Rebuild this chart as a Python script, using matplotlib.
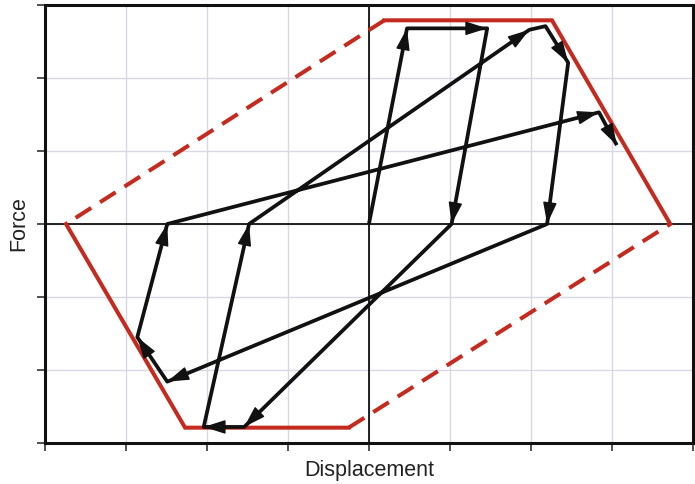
import numpy as np
import matplotlib
matplotlib.use("Agg")
import matplotlib.pyplot as plt
from matplotlib.patches import FancyArrowPatch

# envelope (red): solid parts and dashed unloading branches
env_solid_1_x = [-3.74, -2.27, -0.25]
env_solid_1_y = [0.0, -2.79, -2.79]
env_solid_2_x = [3.72, 2.26, 0.19]
env_solid_2_y = [0.0, 2.79, 2.79]
env_dash_1_x = [-0.25, 3.72]
env_dash_1_y = [-2.79, 0.0]
env_dash_2_x = [0.19, -3.74]
env_dash_2_y = [2.79, 0.0]

# load path (black), in order
path_x = [0.0, 0.47, 1.46, 1.02, -1.54, -2.04, -1.48, 1.98, 2.18, 2.46, 2.20, -2.49, -2.86, -2.49, 2.84, 3.06]
path_y = [0.0, 2.68, 2.68, 0.0, -2.78, -2.78, 0.0, 2.66, 2.71, 2.21, 0.0, -2.16, -1.55, 0.0, 1.53, 1.08]
# segments without arrowhead
no_head = [7]

plt.rcParams['font.family'] = ['Liberation Sans', 'DejaVu Sans']

fig = plt.figure(figsize=(6.95, 4.84), dpi=100)
ax = fig.add_axes([0.0647, 0.0847, 0.9323, 0.905])

ax.set_xlim(-4, 4)
ax.set_ylim(-3, 3)
ax.set_xticks(np.arange(-4, 5, 1))
ax.set_yticks(np.arange(-3, 4, 1))
ax.set_xticklabels([])
ax.set_yticklabels([])
ax.tick_params(direction='out', length=6, width=1.2, color='#333333')
ax.grid(True, color='#d8d8e4', linewidth=1.0)
ax.set_axisbelow(True)
for s in ax.spines.values():
    s.set_linewidth(2.2)
    s.set_color('#111111')

ax.axhline(0, color='#111111', lw=1.3, zorder=1)
ax.axvline(0, color='#111111', lw=1.3, zorder=1)

red = '#c42a1e'
ax.plot(env_solid_1_x, env_solid_1_y, color=red, lw=2.9, solid_joinstyle='miter', zorder=2)
ax.plot(env_solid_2_x, env_solid_2_y, color=red, lw=2.9, solid_joinstyle='miter', zorder=2)
ax.plot(env_dash_1_x, env_dash_1_y, color=red, lw=2.9, ls=(0, (4.6, 2.6)), zorder=2)
ax.plot(env_dash_2_x, env_dash_2_y, color=red, lw=2.9, ls=(0, (4.6, 2.6)), zorder=2)

# continuous path, then arrowheads on top
ax.plot(path_x, path_y, color='#111111', lw=2.7, solid_joinstyle='round',
        solid_capstyle='butt', zorder=3)

for i in range(len(path_x) - 1):
    if i in no_head:
        continue
    x0, y0 = path_x[i], path_y[i]
    x1, y1 = path_x[i + 1], path_y[i + 1]
    # short stub right before the end point, only to orient the head
    xs = x1 - 0.15 * (x1 - x0)
    ys = y1 - 0.15 * (y1 - y0)
    arr = FancyArrowPatch((xs, ys), (x1, y1), arrowstyle='-|>,head_length=0.85,head_width=0.27',
                          mutation_scale=16, color='#111111', lw=1.0,
                          shrinkA=0, shrinkB=0, zorder=4)
    ax.add_patch(arr)

ax.set_xlabel('Displacement', fontsize=15.5, color='#222222', labelpad=3)
ax.set_ylabel('Force', fontsize=15.5, color='#222222', labelpad=2)

fig.savefig('out.png', dpi=100)
